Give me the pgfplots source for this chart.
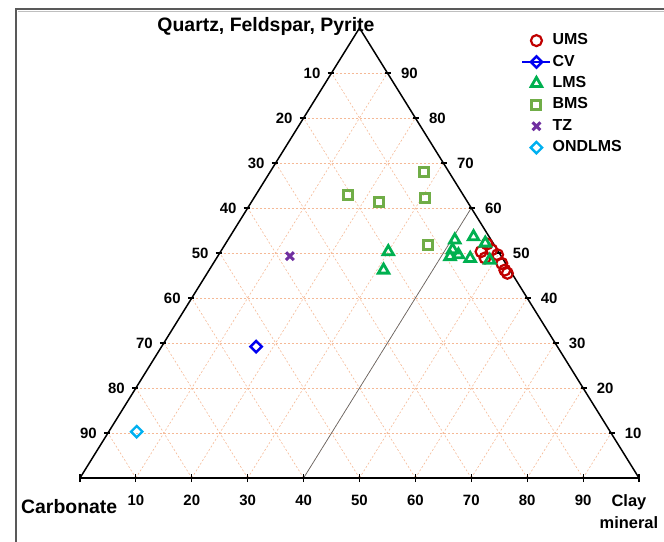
\documentclass[border=0pt]{standalone}
\usepackage{fontspec}
\setmainfont{Liberation Sans}
\usepackage{pgfplots}
\pgfplotsset{compat=1.18}

\definecolor{ums}{HTML}{C00000}
\definecolor{cv}{HTML}{0000F0}
\definecolor{lms}{HTML}{00B050}
\definecolor{bms}{HTML}{70AD47}
\definecolor{tz}{HTML}{7030A0}
\definecolor{ond}{HTML}{00B0F0}
\definecolor{gridc}{RGB}{245,185,150}

% ternary data: clay, qfp (quartz+feldspar+pyrite), carb (carbonate), in %
% plotted at x = clay + qfp/2, y = qfp
\pgfplotsset{
  /pgfplots/table/tern/.style={x expr={\thisrow{clay}+0.5*\thisrow{qfp}}, y=qfp},
  marksonly/.style={draw=none,
    legend image code/.code={\path[mark repeat=2,mark phase=2,##1] plot coordinates {(0bp,0bp) (14bp,0bp) (28bp,0bp)};}},
}

\begin{document}
\begin{tikzpicture}
\begin{axis}[
    x=5.59bp, y=4.5bp,
    xmin=0, xmax=100, ymin=0, ymax=100,
    hide axis, clip=false,
    legend cell align=left,
    legend image code/.code={\draw[mark repeat=2,mark phase=2,#1] plot coordinates {(0bp,0bp) (14bp,0bp) (28bp,0bp)};},
    legend style={draw=none, fill=none, at={(axis cs:78.89,99.02)}, anchor=north west,
        font=\bfseries\fontsize{16}{16}\selectfont, inner sep=0pt, row sep=5.4bp,
        nodes={inner sep=1bp, text height=11bp, text depth=3bp}},
  ]
  % frame of the screenshot
  \draw[line width=2bp, black!65] (axis cs:-11.36,-15) -- (axis cs:-11.36,104.22) -- (axis cs:105,104.22);
  \draw[line width=1.5bp, black!25] (axis cs:-11.1,103.7) -- (axis cs:105,103.7);

  % grid
  \pgfplotsinvokeforeach{10,20,...,90}{
    \draw[gridc, line width=0.6bp, dash pattern=on 2bp off 2bp] (axis cs:{#1/2},#1) -- (axis cs:{100-#1/2},#1);
    \draw[gridc, line width=0.6bp, dash pattern=on 2bp off 2bp] (axis cs:#1,0) -- (axis cs:{50+#1/2},{100-#1});
    \draw[gridc, line width=0.6bp, dash pattern=on 2bp off 2bp] (axis cs:{100-#1},0) -- (axis cs:{50-#1/2},{100-#1});
  }
  % clay = 40 line
  \draw[black!60, line width=0.7bp] (axis cs:40,0) -- (axis cs:70,60);

  % triangle
  \draw[line width=1.5bp] (axis cs:0,0) -- (axis cs:50,100) -- (axis cs:100,0);
  \draw[line width=2.2bp] (axis cs:0,0) -- (axis cs:100,0);

  % ticks and labels
  \pgfplotsinvokeforeach{0,10,...,100}{
    \draw[line width=1.2bp] ([yshift=-4bp]axis cs:#1,0) -- ([yshift=4bp]axis cs:#1,0);
  }
  \pgfplotsinvokeforeach{10,20,...,90}{
    \draw[line width=1.2bp] ([xshift=-4bp]axis cs:{(100-#1)/2},{100-#1}) -- ([xshift=2bp]axis cs:{(100-#1)/2},{100-#1});
    \node[anchor=east, inner sep=0pt, font=\bfseries\fontsize{15}{15}\selectfont]
      at ([xshift=-11bp]axis cs:{(100-#1)/2},{100-#1}) {#1};
    \draw[line width=1.2bp] ([xshift=-2bp]axis cs:{100-#1/2},#1) -- ([xshift=4bp]axis cs:{100-#1/2},#1);
    \node[anchor=west, inner sep=0pt, font=\bfseries\fontsize{15}{15}\selectfont]
      at ([xshift=13.5bp]axis cs:{100-#1/2},#1) {#1};
    \node[anchor=base, inner sep=0pt, font=\bfseries\fontsize{15}{15}\selectfont]
      at (axis cs:#1,-6.2) {#1};
  }

  % corner titles
  \node[anchor=base, inner sep=0pt, font=\bfseries\fontsize{19.5}{20}\selectfont]
    at (axis cs:33.27,99.33) {Quartz, Feldspar, Pyrite};
  \node[anchor=base, inner sep=0pt, font=\bfseries\fontsize{19.5}{20}\selectfont]
    at (axis cs:-1.93,-7.87) {Carbonate};
  \node[anchor=base, inner sep=0pt, font=\bfseries\fontsize{16.5}{17}\selectfont]
    at (axis cs:98.2,-6.44) {Clay};
  \node[anchor=base, inner sep=0pt, font=\bfseries\fontsize{16.5}{17}\selectfont]
    at (axis cs:98.2,-11.33) {mineral};

  % data
  \addplot[ums, marksonly, mark=o, mark size=5.5bp, line width=2.2bp,
      mark options={line width=2.2bp}] table[tern] {
clay qfp carb
46.8 52.0 1.2
46.6 50.3 3.1
48.3 50.7 1.0
49.9 49.6 0.5
48.0 48.9 3.1
51.6 47.7 0.7
52.9 46.2 0.9
53.7 45.5 0.8
  };
  \addlegendentry{UMS}
  \addplot[cv, line width=2.5bp, mark=square, mark size=4bp,
      mark options={rotate=45, line width=2.5bp}] table[tern] {
clay qfp carb
16.9 29.2 53.9
  };
  \addlegendentry{CV}
  \addplot[lms, marksonly, mark=triangle, mark size=6bp, line width=2.8bp,
      mark options={line width=2.8bp}] table[tern] {
clay qfp carb
30.0 50.3 19.7
31.2 46.2 22.6
40.6 52.9 6.5
43.6 53.6 2.8
41.6 49.2 9.2
41.3 50.7 8.0
42.9 49.6 7.5
45.4 48.8 5.8
46.4 52.2 1.4
49.1 48.4 2.5
  };
  \addlegendentry{LMS}
  \addplot[bms, marksonly, mark=square, mark size=4.5bp, line width=3bp,
      mark options={line width=3bp}] table[tern] {
clay qfp carb
16.5 63.0 20.5
22.7 61.4 15.9
27.6 67.9 4.5
30.6 62.2 7.2
36.4 51.8 11.8
  };
  \addlegendentry{BMS}
  \addplot[tz, marksonly, mark=x, mark size=5.5bp, line width=3bp,
      mark options={line width=3bp}] table[tern] {
clay qfp carb
12.9 49.3 37.8
  };
  \addlegendentry{TZ}
  \addplot[ond, marksonly, mark=square, mark size=4bp, line width=2.4bp,
      mark options={rotate=45, line width=2.4bp}] table[tern] {
clay qfp carb
5.0 10.3 84.7
  };
  \addlegendentry{ONDLMS}

  \coordinate (bbsw) at (axis cs:-14.311,-14.222);
  \coordinate (bbne) at (axis cs:104.472,106.222);
\end{axis}
\pgfresetboundingbox
\path[use as bounding box] (bbsw) rectangle (bbne);
\end{tikzpicture}
\end{document}
